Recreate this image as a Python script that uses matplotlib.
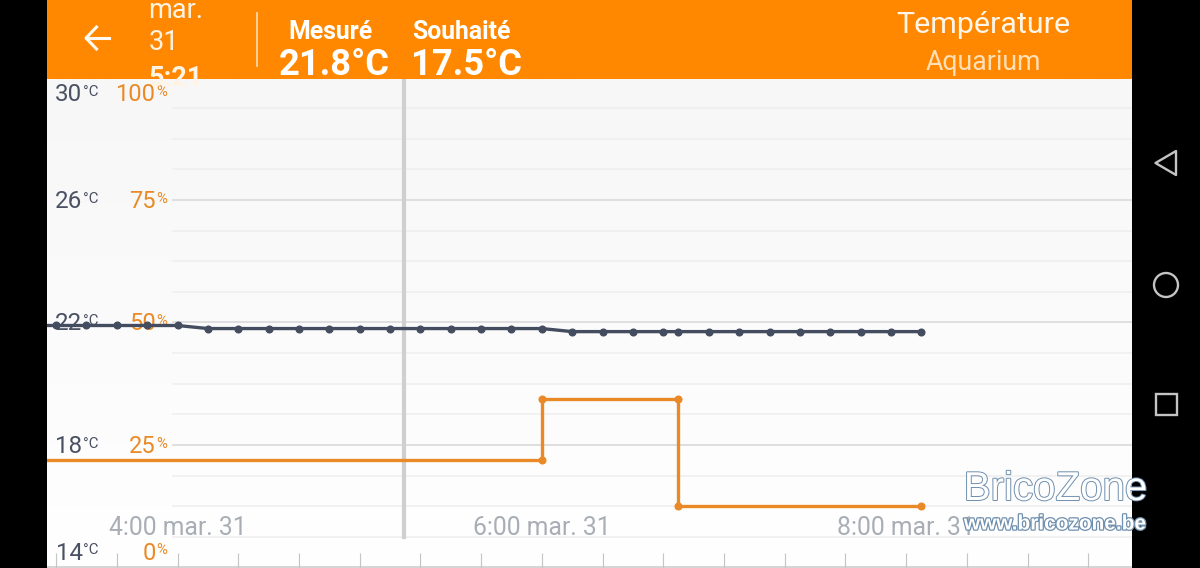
import numpy as np
import matplotlib
matplotlib.use("Agg")
import matplotlib.pyplot as plt
import matplotlib.patheffects as pe
from matplotlib.patches import Rectangle, Circle, Polygon
from matplotlib.ticker import FixedLocator, FixedFormatter

# Minutes after 4:00 for each reading
measured_minutes = [-50, -40, -30, -20, -10, 0, 10, 20, 30, 40, 50, 60, 70, 80, 90, 100, 110, 120,
                    130, 140, 150, 160, 165, 175, 185, 195, 205, 215, 225, 235, 245]
measured_temp = [21.9, 21.9, 21.9, 21.9, 21.9, 21.9, 21.8, 21.8, 21.8, 21.8, 21.8, 21.8, 21.8, 21.8, 21.8, 21.8, 21.8, 21.8,
                 21.7, 21.7, 21.7, 21.7, 21.7, 21.7, 21.7, 21.7, 21.7, 21.7, 21.7, 21.7, 21.7]
setpoint_minutes = [-50, 120, 120, 165, 165, 245]
setpoint_temp = [17.5, 17.5, 19.5, 19.5, 16.0, 16.0]
setpoint_marked = [1, 2, 3, 4, 5]

temp_labels = [30, 26, 22, 18, 14]
percent_labels = [100, 75, 50, 25, 0]
label_offsets_px = [-15.5, 0, 0, 0, 15.5]
major_temps = [30, 26, 22, 18, 14]
minor_temps = [29, 28, 27, 25, 24, 23, 21, 20, 19, 17, 16, 15]
time_tick_minutes = [0, 120, 240]
time_tick_labels = ["4:00 mar. 31", "6:00 mar. 31", "8:00 mar. 31"]
time_minor_minutes = [-40, -20, 20, 40, 60, 80, 100, 140, 160, 180, 200, 220, 260, 280, 300]
cursor_minute = 74.7

ORANGE_BAR = "#ff8800"
ORANGE = "#ea8a26"
SLATE = "#444c60"
FONT = "Roboto"
W, H = 1200, 568

fig = plt.figure(figsize=(W / 100, H / 100), dpi=100, facecolor="black")

# Chart area, between the side bars and under the header
left, right, top, bottom = 47, 1132, 79, 568
ax = fig.add_axes([left / W, 0, (right - left) / W, (H - top) / H])
ax.imshow(np.linspace(0, 1, 256).reshape(-1, 1), extent=(0, 1, 0, 1), transform=ax.transAxes,
          cmap=matplotlib.colors.LinearSegmentedColormap.from_list("bg", ["#f7f7f7", "#ffffff"]),
          aspect="auto", zorder=0)
ax.set_xlim(-43.0, 314.4)
ax.set_ylim(13.98, 29.95)
for s in ax.spines.values():
    s.set_visible(False)

grid_start = (173 - left) / (right - left)
for t in major_temps:
    ax.axhline(t, xmin=grid_start, color="#dadada", lw=1.2, zorder=1)
for t in minor_temps:
    ax.axhline(t, xmin=grid_start, color="#efefef", lw=1.2, zorder=1)

# Time axis: ticks every twenty minutes, labels sit above the ticks
ax.xaxis.set_major_locator(FixedLocator(time_tick_minutes))
ax.xaxis.set_major_formatter(FixedFormatter(time_tick_labels))
ax.xaxis.set_minor_locator(FixedLocator(time_minor_minutes))
ax.tick_params(axis="x", which="both", direction="in", length=10.8, width=0.8, color="#c4c4c4")
ax.tick_params(axis="x", which="major", pad=-37.5, labelsize=17.8, labelcolor="#a9aeb6")
for lab in ax.get_xticklabels():
    lab.set_fontfamily(FONT)
ax.set_yticks([])
ax.axhline(14, color="#d5d5d5", lw=1.5, zorder=1)

ax.axvline(cursor_minute, ymin=(H - 537) / (H - top), color="#cfcfcf", lw=3, zorder=2)

# Two scale columns share each gridline; the end labels are pulled inside the plot
blend = ax.get_yaxis_transform()
for temp, pct, off in zip(temp_labels, percent_labels, label_offsets_px):
    dy = off * 0.72 - 1
    for x_px, txt, ha, size, col in [
        (82.5, f"{temp}", "right", 17.4, "#4a5163"),
        (83, "°C", "left", 10.8, "#4a5163"),
        (155.5, f"{pct}", "right", 17.0, ORANGE),
        (156, "%", "left", 10.8, ORANGE),
    ]:
        ax.annotate(txt, xy=((x_px - left) / (right - left), temp), xycoords=blend,
                    xytext=(0, dy + (2 if size < 12 else 0)), textcoords="offset points",
                    ha=ha, va="center", fontsize=size, color=col, family=FONT, zorder=3,
                    annotation_clip=False)

ax.plot(measured_minutes, measured_temp, color=SLATE, lw=2.4, marker="o", ms=4.8, zorder=5)
ax.plot(setpoint_minutes, setpoint_temp, color=ORANGE, lw=2.4, marker="o", ms=4.8,
        markevery=setpoint_marked, zorder=4)

# Interface chrome, laid out in pixel coordinates
ui = fig.add_axes([0, 0, 1, 1], facecolor="none", zorder=10)
ui.set_xlim(0, W)
ui.set_ylim(H, 0)
ui.axis("off")

header = Rectangle((left, 0), right - left, top - 0.5, color=ORANGE_BAR, zorder=1, lw=0)
ui.add_patch(header)

ui.plot([86, 109], [38, 38], color="white", lw=2.2, zorder=2, alpha=0.95)
ui.plot([96.5, 86, 96.5], [27, 38, 49], color="white", lw=2.2, zorder=2, alpha=0.95)
ui.plot([257, 257], [13, 66], color="#ffd9a8", lw=1.3, zorder=2)

for txt, y, wt in [("mar.", 10, "normal"), ("31", 42, "normal"), ("5:21", 78, "bold")]:
    t = ui.text(148.5, y, txt, color="#fff4e4", fontsize=19.5, family=FONT, weight=wt, va="center", ha="left", zorder=3)
    t.set_clip_path(header)

ui.text(330, 32, "Mesuré", color="white", fontsize=17.8, family=FONT, weight="bold", ha="center", va="center", zorder=3)
ui.text(461.5, 32, "Souhaité", color="white", fontsize=17.8, family=FONT, weight="bold", ha="center", va="center", zorder=3)
ui.text(334, 65, "21.8°C", color="white", fontsize=26.2, family=FONT, weight="bold", ha="center", va="center", zorder=3)
ui.text(467, 65, "17.5°C", color="white", fontsize=26.2, family=FONT, weight="bold", ha="center", va="center", zorder=3)
ui.text(983.5, 25, "Température", color="#fff6ea", fontsize=21.9, family=FONT, ha="center", va="center", zorder=3)
ui.text(983.5, 62.5, "Aquarium", color="#ffdfb5", fontsize=19.2, family=FONT, ha="center", va="center", zorder=3)

# Android navigation buttons
nav = "#c4c4c4"
ui.add_patch(Polygon([[1176, 151], [1176, 175], [1155.5, 163]], closed=True, fill=False, ec=nav, lw=1.7, joinstyle="round"))
ui.add_patch(Circle((1166, 285), 12, fill=False, ec=nav, lw=1.7))
ui.add_patch(Rectangle((1155.5, 393.5), 21, 21, fill=False, ec=nav, lw=1.7))

# Outlined forum stamp
ui.text(1055.5, 489, "BricoZone", color="white", fontsize=29, family="Liberation Sans", ha="center", va="center", zorder=5,
        path_effects=[pe.Stroke(linewidth=1.4, foreground="#6f8fae"), pe.Normal()])
ui.text(1055.5, 524, "www.bricozone.be", color="white", fontsize=15, family="Liberation Sans", weight="bold", ha="center", va="center", zorder=5,
        path_effects=[pe.Stroke(linewidth=1.8, foreground="#6f8fae"), pe.Normal()])

fig.savefig("out.png", dpi=100, facecolor="black")
